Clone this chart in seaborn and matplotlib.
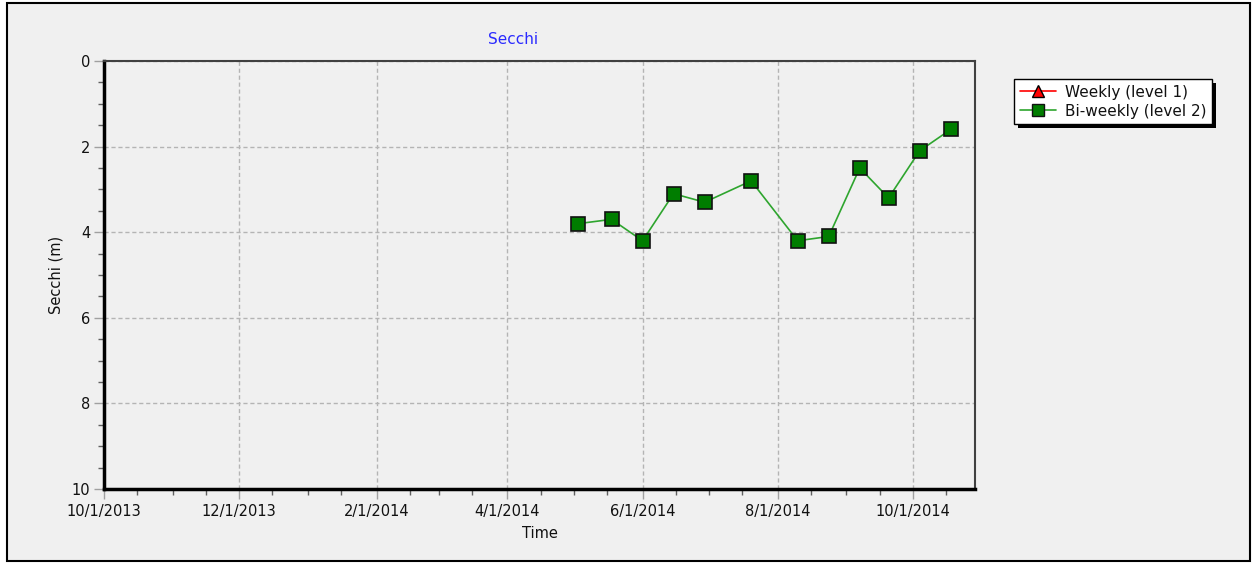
import matplotlib
matplotlib.use("Agg")
import matplotlib.pyplot as plt
import matplotlib.dates as mdates
from matplotlib.ticker import AutoMinorLocator, FuncFormatter
from matplotlib.patches import Rectangle
from matplotlib.lines import Line2D
import seaborn as sns
import pandas as pd

# ---- data ----
biweekly_dates = ["2014-05-03", "2014-05-18", "2014-06-01", "2014-06-15", "2014-06-29",
                  "2014-07-20", "2014-08-10", "2014-08-24", "2014-09-07", "2014-09-20",
                  "2014-10-04", "2014-10-18"]
biweekly_secchi = [3.8, 3.7, 4.2, 3.1, 3.3, 2.8, 4.2, 4.1, 2.5, 3.2, 2.1, 1.6]
weekly_dates = []
weekly_secchi = []
series_labels = ["Weekly (level 1)", "Bi-weekly (level 2)"]
x_start, x_end = "2013-10-01", "2014-10-29"
y_ticks = [0, 2, 4, 6, 8, 10]

sns.set_theme(style="white")
plt.rcParams["font.family"] = ["DejaVu Sans"]

W, H, DPI = 1257, 564, 100
fig = plt.figure(figsize=(W / DPI, H / DPI), dpi=DPI, facecolor="white")
# outer panel
fig.patches.append(Rectangle((7 / W, 1 - 561 / H), (1250 - 7) / W, (561 - 3) / H,
                             transform=fig.transFigure, facecolor="#f0f0f0",
                             edgecolor="black", linewidth=1.5, zorder=-10))

ax = fig.add_axes([104 / W, 1 - 489 / H, (975 - 104) / W, (489 - 61) / H])
ax.set_facecolor("#f0f0f0")

df = pd.DataFrame({"date": pd.to_datetime(biweekly_dates), "secchi": biweekly_secchi})
sns.lineplot(data=df, x="date", y="secchi", ax=ax, color="#2ea52e", linewidth=1.2,
             marker="s", markersize=10, markerfacecolor="#007d00",
             markeredgecolor="#111111", markeredgewidth=1.2, zorder=5)
ax.plot(pd.to_datetime(weekly_dates), weekly_secchi, color="red", marker="^",
        markerfacecolor="red", markeredgecolor="black", label=series_labels[0])

ax.set_xlim(pd.Timestamp(x_start), pd.Timestamp(x_end))
ax.set_ylim(10, 0)
ax.set_yticks(y_ticks)
ax.yaxis.set_minor_locator(AutoMinorLocator(4))
ax.xaxis.set_major_locator(mdates.MonthLocator(bymonth=[2, 4, 6, 8, 10, 12], bymonthday=1))
ax.xaxis.set_minor_locator(mdates.DayLocator(bymonthday=[1, 16]))
ax.xaxis.set_major_formatter(FuncFormatter(
    lambda v, p: (lambda d: f"{d.month}/{d.day}/{d.year}")(mdates.num2date(v))))

ax.grid(True, which="major", color="#b4b4b4", linestyle=(0, (3, 2)), linewidth=1)
ax.tick_params(axis="both", which="both", bottom=True, left=True, top=False, right=False)
ax.tick_params(axis="both", which="major", direction="out", length=7, width=1,
               color="#a0a0a0", labelsize=10.5, labelcolor="#111111", pad=3)
ax.tick_params(axis="both", which="minor", direction="out", length=4, width=1,
               color="#606060")
ax.tick_params(axis="x", which="major", pad=4)

for side in ["left", "bottom"]:
    ax.spines[side].set_color("black")
    ax.spines[side].set_linewidth(2.5)
for side in ["top", "right"]:
    ax.spines[side].set_color("#404040")
    ax.spines[side].set_linewidth(1.5)

ax.set_xlabel("Time", fontsize=10.5, color="#111111", labelpad=5)
ax.set_ylabel("Secchi (m)", fontsize=10.5, color="#111111", labelpad=6)
fig.text(513 / W, 1 - 39 / H, "Secchi", color="#2a2aff", fontsize=11,
         ha="center", va="center")

handles = [
    Line2D([], [], color="red", marker="^", markerfacecolor="red",
           markeredgecolor="black", markersize=8, linewidth=1.2),
    Line2D([], [], color="#2ea52e", marker="s", markerfacecolor="#007d00",
           markeredgecolor="#111111", markersize=9, linewidth=1.2),
]
leg = fig.legend(handles, series_labels, loc="upper left",
                 bbox_to_anchor=(1014 / W, 1 - 79 / H), borderaxespad=0,
                 fancybox=False, frameon=True, edgecolor="black", facecolor="white",
                 framealpha=1, fontsize=11, handlelength=2.4, handletextpad=0.55,
                 borderpad=0.38, labelspacing=0.25, shadow=False)
leg.get_frame().set_linewidth(1)
leg.set_zorder(10)
for t in leg.get_texts():
    t.set_color("#111111")

# solid black drop shadow offset 4 px right/down
fig.canvas.draw()
bb = leg.get_window_extent()
fig.patches.append(Rectangle(((bb.x0 + 4) / W, (bb.y0 - 4) / H), bb.width / W, bb.height / H,
                             transform=fig.transFigure, facecolor="black",
                             edgecolor="none", zorder=9))

fig.savefig("out.png", dpi=DPI, facecolor="white")
